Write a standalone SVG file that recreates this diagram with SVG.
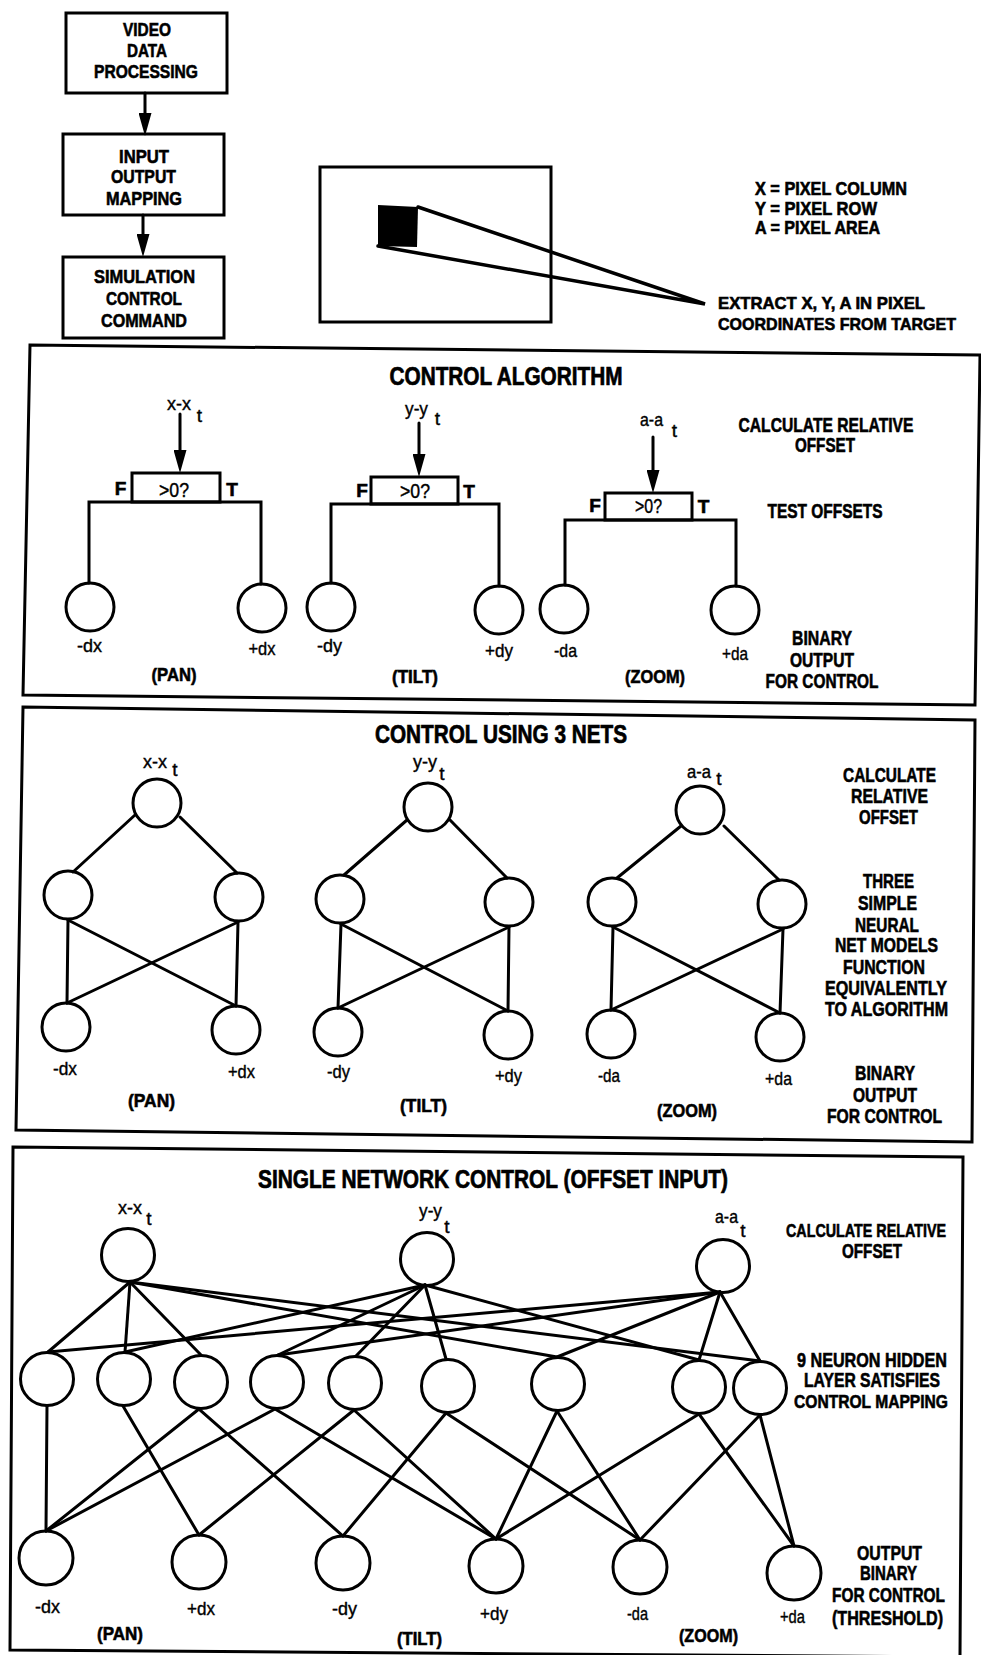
<svg xmlns="http://www.w3.org/2000/svg" width="981" height="1655" viewBox="0 0 981 1655">
  <style>
    .bg { fill: #fff; }
    .box { fill: #fff; stroke: #000; stroke-width: 3; }
    .frame { fill: none; stroke: #000; stroke-width: 3; stroke-linejoin: miter; }
    .ln { fill: none; stroke: #000; stroke-width: 3; stroke-linecap: round; }
    .nd { fill: #fff; stroke: #000; stroke-width: 3; }
    text { fill: #000; font-family: "Liberation Sans Narrow", "Liberation Sans", Arial, sans-serif; }
    .b, .bl, .be, .r, .re, .ti { font-weight: bold; stroke: #000; stroke-width: 0.6; }
    .b { font-size: 19px; text-anchor: middle; }
    .bl { font-size: 18px; text-anchor: start; }
    .be { font-size: 17px; text-anchor: end; }
    .r { font-size: 20px; text-anchor: middle; }
    .re { font-size: 19px; text-anchor: end; }
    .ti { font-size: 25px; text-anchor: middle; stroke-width: 0.7; }
    .lc { font-weight: normal; font-size: 19px; text-anchor: middle; stroke: #000; stroke-width: 0.4; }
    .q { font-weight: normal; font-size: 20px; text-anchor: middle; stroke: #000; stroke-width: 0.4; }
  </style>
  <defs>
    <marker id="head" viewBox="0 0 23 13" refX="0" refY="6.5" markerWidth="23" markerHeight="13" markerUnits="userSpaceOnUse" orient="auto">
      <path d="M0,0 L23,6.5 L0,13 Z" fill="#000"/>
    </marker>
  </defs>
  <rect class="bg" x="0" y="0" width="981" height="1655"/>

  <!-- ===== Processing chain ===== -->
  <g id="video-data-processing">
    <rect class="box" x="66" y="13" width="161" height="80"/>
    <text class="b" x="147" y="36" textLength="48" lengthAdjust="spacingAndGlyphs">VIDEO</text>
    <text class="b" x="147" y="57" textLength="40" lengthAdjust="spacingAndGlyphs">DATA</text>
    <text class="b" x="146" y="78" textLength="104" lengthAdjust="spacingAndGlyphs">PROCESSING</text>
  </g>
  <g id="input-output-mapping">
    <rect class="box" x="63" y="134" width="161" height="81"/>
    <text class="b" x="144" y="163" textLength="50" lengthAdjust="spacingAndGlyphs">INPUT</text>
    <text class="b" x="143.5" y="183" textLength="65" lengthAdjust="spacingAndGlyphs">OUTPUT</text>
    <text class="b" x="144" y="205" textLength="76" lengthAdjust="spacingAndGlyphs">MAPPING</text>
  </g>
  <g id="simulation-control-command">
    <rect class="box" x="63" y="257" width="161" height="81"/>
    <text class="b" x="144.5" y="283" textLength="101" lengthAdjust="spacingAndGlyphs">SIMULATION</text>
    <text class="b" x="144" y="305" textLength="76" lengthAdjust="spacingAndGlyphs">CONTROL</text>
    <text class="b" x="144" y="327" textLength="86" lengthAdjust="spacingAndGlyphs">COMMAND</text>
  </g>

  <!-- camera frame with tracked target -->
  <g id="camera-frame">
    <rect class="box" x="320" y="167" width="231" height="155"/>
    <polygon points="378,205 418,207 417,247 378,246" fill="#000"/>
  </g>
  <g id="pixel-legend">
    <text class="bl" x="755" y="195" textLength="152" lengthAdjust="spacingAndGlyphs">X = PIXEL COLUMN</text>
    <text class="bl" x="755" y="215" textLength="122" lengthAdjust="spacingAndGlyphs">Y = PIXEL ROW</text>
    <text class="bl" x="755" y="234" textLength="125" lengthAdjust="spacingAndGlyphs">A = PIXEL AREA</text>
  </g>
  <g id="extract-note">
    <text class="be" x="925" y="309" textLength="207" lengthAdjust="spacingAndGlyphs">EXTRACT X, Y, A IN PIXEL</text>
    <text class="be" x="956" y="330" textLength="238" lengthAdjust="spacingAndGlyphs">COORDINATES FROM TARGET</text>
  </g>

  <!-- ===== Control algorithm ===== -->
  <g id="control-algorithm">
    <polygon class="frame" points="30,345 980,355 975,705 23,695"/>
    <text class="ti" x="506" y="385" textLength="233" lengthAdjust="spacingAndGlyphs">CONTROL ALGORITHM</text>
    <text class="r" x="826" y="432" textLength="175" lengthAdjust="spacingAndGlyphs">CALCULATE RELATIVE</text>
    <text class="r" x="825" y="452" textLength="60" lengthAdjust="spacingAndGlyphs">OFFSET</text>
    <text class="r" x="825" y="518" textLength="115" lengthAdjust="spacingAndGlyphs">TEST OFFSETS</text>
    <text class="r" x="822" y="645" textLength="60" lengthAdjust="spacingAndGlyphs">BINARY</text>
    <text class="r" x="822" y="667" textLength="64" lengthAdjust="spacingAndGlyphs">OUTPUT</text>
    <text class="r" x="822" y="688" textLength="113" lengthAdjust="spacingAndGlyphs">FOR CONTROL</text>
  </g>
  <g id="alg-pan">
    <text class="lc" x="179" y="410" textLength="24" lengthAdjust="spacingAndGlyphs">x-x</text>
    <text class="lc" x="199.5" y="422">t</text>
    <rect class="box" x="132" y="473" width="88" height="29"/>
    <text class="q" x="174" y="497" textLength="30" lengthAdjust="spacingAndGlyphs">&gt;0?</text>
    <text class="b" x="120.5" y="495">F</text>
    <text class="b" x="232" y="496">T</text>
    <circle class="nd" cx="90" cy="607" r="24"/>
    <circle class="nd" cx="262" cy="608" r="24"/>
    <text class="lc" x="89.5" y="652" textLength="25" lengthAdjust="spacingAndGlyphs">-dx</text>
    <text class="lc" x="262" y="655" textLength="27" lengthAdjust="spacingAndGlyphs">+dx</text>
    <text class="b" x="174" y="681" textLength="45" lengthAdjust="spacingAndGlyphs">(PAN)</text>
  </g>
  <g id="alg-tilt">
    <text class="lc" x="416.5" y="415" textLength="23" lengthAdjust="spacingAndGlyphs">y-y</text>
    <text class="lc" x="437.5" y="425">t</text>
    <rect class="box" x="371" y="477" width="87" height="27"/>
    <text class="q" x="415" y="498" textLength="30" lengthAdjust="spacingAndGlyphs">&gt;0?</text>
    <text class="b" x="362" y="497">F</text>
    <text class="b" x="469" y="498">T</text>
    <circle class="nd" cx="331" cy="607" r="24"/>
    <circle class="nd" cx="499" cy="610" r="24"/>
    <text class="lc" x="329.5" y="652" textLength="25" lengthAdjust="spacingAndGlyphs">-dy</text>
    <text class="lc" x="499" y="657" textLength="28" lengthAdjust="spacingAndGlyphs">+dy</text>
    <text class="b" x="415" y="683" textLength="46" lengthAdjust="spacingAndGlyphs">(TILT)</text>
  </g>
  <g id="alg-zoom">
    <text class="lc" x="651.5" y="426" textLength="23" lengthAdjust="spacingAndGlyphs">a-a</text>
    <text class="lc" x="674.5" y="437">t</text>
    <rect class="box" x="605" y="493" width="87" height="27"/>
    <text class="q" x="648.5" y="513" textLength="27" lengthAdjust="spacingAndGlyphs">&gt;0?</text>
    <text class="b" x="595" y="512">F</text>
    <text class="b" x="703.5" y="513">T</text>
    <circle class="nd" cx="564" cy="609" r="24"/>
    <circle class="nd" cx="735" cy="610" r="24"/>
    <text class="lc" x="565.5" y="657" textLength="23" lengthAdjust="spacingAndGlyphs">-da</text>
    <text class="lc" x="735" y="660" textLength="26" lengthAdjust="spacingAndGlyphs">+da</text>
    <text class="b" x="655" y="683" textLength="60" lengthAdjust="spacingAndGlyphs">(ZOOM)</text>
  </g>

  <!-- ===== Control using 3 nets ===== -->
  <g id="three-nets">
    <polygon class="frame" points="23,707 975,720 972,1142 16,1130"/>
    <text class="ti" x="501" y="743" textLength="252" lengthAdjust="spacingAndGlyphs">CONTROL USING 3 NETS</text>
    <text class="r" x="889.5" y="782" textLength="93" lengthAdjust="spacingAndGlyphs">CALCULATE</text>
    <text class="r" x="889.5" y="803" textLength="77" lengthAdjust="spacingAndGlyphs">RELATIVE</text>
    <text class="r" x="888.5" y="824" textLength="59" lengthAdjust="spacingAndGlyphs">OFFSET</text>
    <text class="r" x="888.5" y="888" textLength="51" lengthAdjust="spacingAndGlyphs">THREE</text>
    <text class="r" x="887.5" y="910" textLength="59" lengthAdjust="spacingAndGlyphs">SIMPLE</text>
    <text class="r" x="887" y="932" textLength="64" lengthAdjust="spacingAndGlyphs">NEURAL</text>
    <text class="r" x="886.5" y="952" textLength="103" lengthAdjust="spacingAndGlyphs">NET MODELS</text>
    <text class="r" x="884" y="974" textLength="82" lengthAdjust="spacingAndGlyphs">FUNCTION</text>
    <text class="r" x="886" y="995" textLength="122" lengthAdjust="spacingAndGlyphs">EQUIVALENTLY</text>
    <text class="r" x="886.5" y="1016" textLength="123" lengthAdjust="spacingAndGlyphs">TO ALGORITHM</text>
    <text class="r" x="885" y="1080" textLength="60" lengthAdjust="spacingAndGlyphs">BINARY</text>
    <text class="r" x="885" y="1102" textLength="64" lengthAdjust="spacingAndGlyphs">OUTPUT</text>
    <text class="r" x="884.5" y="1123" textLength="115" lengthAdjust="spacingAndGlyphs">FOR CONTROL</text>
  </g>
  <g id="net-pan">
    <text class="lc" x="155" y="768" textLength="24" lengthAdjust="spacingAndGlyphs">x-x</text>
    <text class="lc" x="175" y="776">t</text>
    <circle class="nd" cx="157" cy="803" r="24"/>
    <circle class="nd" cx="68" cy="895" r="24"/>
    <circle class="nd" cx="239" cy="897" r="24"/>
    <circle class="nd" cx="66" cy="1027" r="24"/>
    <circle class="nd" cx="236" cy="1030" r="24"/>
    <text class="lc" x="65" y="1075" textLength="24" lengthAdjust="spacingAndGlyphs">-dx</text>
    <text class="lc" x="241.5" y="1078" textLength="27" lengthAdjust="spacingAndGlyphs">+dx</text>
    <text class="b" x="151.5" y="1107" textLength="47" lengthAdjust="spacingAndGlyphs">(PAN)</text>
  </g>
  <g id="net-tilt">
    <text class="lc" x="425" y="768" textLength="24" lengthAdjust="spacingAndGlyphs">y-y</text>
    <text class="lc" x="442" y="780">t</text>
    <circle class="nd" cx="428" cy="807" r="24"/>
    <circle class="nd" cx="340" cy="899" r="24"/>
    <circle class="nd" cx="509" cy="902" r="24"/>
    <circle class="nd" cx="338" cy="1032" r="24"/>
    <circle class="nd" cx="508" cy="1035" r="24"/>
    <text class="lc" x="338.5" y="1078" textLength="23" lengthAdjust="spacingAndGlyphs">-dy</text>
    <text class="lc" x="508.5" y="1082" textLength="27" lengthAdjust="spacingAndGlyphs">+dy</text>
    <text class="b" x="423.5" y="1112" textLength="47" lengthAdjust="spacingAndGlyphs">(TILT)</text>
  </g>
  <g id="net-zoom">
    <text class="lc" x="699" y="778" textLength="24" lengthAdjust="spacingAndGlyphs">a-a</text>
    <text class="lc" x="719" y="785">t</text>
    <circle class="nd" cx="700" cy="810" r="24"/>
    <circle class="nd" cx="612" cy="902" r="24"/>
    <circle class="nd" cx="782" cy="904" r="24"/>
    <circle class="nd" cx="611" cy="1034" r="24"/>
    <circle class="nd" cx="780" cy="1037" r="24"/>
    <text class="lc" x="609" y="1082" textLength="22" lengthAdjust="spacingAndGlyphs">-da</text>
    <text class="lc" x="778.5" y="1085" textLength="27" lengthAdjust="spacingAndGlyphs">+da</text>
    <text class="b" x="687" y="1117" textLength="60" lengthAdjust="spacingAndGlyphs">(ZOOM)</text>
  </g>

  <!-- ===== Single network control ===== -->
  <g id="single-network">
    <polygon class="frame" points="13,1147 963,1157 960,1657 10,1650"/>
    <text class="ti" x="493" y="1188" textLength="470" lengthAdjust="spacingAndGlyphs">SINGLE NETWORK CONTROL (OFFSET INPUT)</text>
    <text class="re" x="946" y="1237" textLength="160" lengthAdjust="spacingAndGlyphs">CALCULATE RELATIVE</text>
    <text class="r" x="872" y="1258" textLength="60" lengthAdjust="spacingAndGlyphs">OFFSET</text>
    <text class="r" x="872" y="1367" textLength="150" lengthAdjust="spacingAndGlyphs">9 NEURON HIDDEN</text>
    <text class="r" x="872" y="1387" textLength="136" lengthAdjust="spacingAndGlyphs">LAYER SATISFIES</text>
    <text class="re" x="948" y="1408" textLength="154" lengthAdjust="spacingAndGlyphs">CONTROL MAPPING</text>
    <text class="r" x="889.5" y="1560" textLength="65" lengthAdjust="spacingAndGlyphs">OUTPUT</text>
    <text class="r" x="888.5" y="1580" textLength="57" lengthAdjust="spacingAndGlyphs">BINARY</text>
    <text class="r" x="888.5" y="1602" textLength="113" lengthAdjust="spacingAndGlyphs">FOR CONTROL</text>
    <text class="r" x="887.5" y="1625" textLength="111" lengthAdjust="spacingAndGlyphs">(THRESHOLD)</text>
  </g>
  <g id="input-x">
    <text class="lc" x="130" y="1214" textLength="24" lengthAdjust="spacingAndGlyphs">x-x</text>
    <text class="lc" x="149" y="1225">t</text>
    <circle class="nd" cx="128" cy="1255" r="26.5"/>
  </g>
  <g id="input-y">
    <text class="lc" x="430.5" y="1217" textLength="23" lengthAdjust="spacingAndGlyphs">y-y</text>
    <text class="lc" x="447" y="1233">t</text>
    <circle class="nd" cx="427" cy="1259" r="26.5"/>
  </g>
  <g id="input-a">
    <text class="lc" x="726.5" y="1223" textLength="23" lengthAdjust="spacingAndGlyphs">a-a</text>
    <text class="lc" x="743" y="1237">t</text>
    <circle class="nd" cx="723" cy="1266" r="26.5"/>
  </g>
  <g id="hidden-layer">
    <circle id="h1" class="nd" cx="47" cy="1379" r="26.5"/>
    <circle id="h2" class="nd" cx="124" cy="1379" r="26.5"/>
    <circle id="h3" class="nd" cx="201" cy="1382" r="26.5"/>
    <circle id="h4" class="nd" cx="277" cy="1382" r="26.5"/>
    <circle id="h5" class="nd" cx="355" cy="1383" r="26.5"/>
    <circle id="h6" class="nd" cx="448" cy="1386" r="26.5"/>
    <circle id="h7" class="nd" cx="558" cy="1384" r="26.5"/>
    <circle id="h8" class="nd" cx="699" cy="1387" r="26.5"/>
    <circle id="h9" class="nd" cx="760" cy="1388" r="26.5"/>
  </g>
  <g id="output-dx-minus">
    <circle class="nd" cx="46" cy="1558" r="27"/>
    <text class="lc" x="47.5" y="1613" textLength="25" lengthAdjust="spacingAndGlyphs">-dx</text>
  </g>
  <g id="output-dx-plus">
    <circle class="nd" cx="199" cy="1562" r="27"/>
    <text class="lc" x="201" y="1615" textLength="28" lengthAdjust="spacingAndGlyphs">+dx</text>
  </g>
  <g id="output-dy-minus">
    <circle class="nd" cx="343" cy="1563" r="27"/>
    <text class="lc" x="344.5" y="1615" textLength="25" lengthAdjust="spacingAndGlyphs">-dy</text>
  </g>
  <g id="output-dy-plus">
    <circle class="nd" cx="496" cy="1566" r="27"/>
    <text class="lc" x="494" y="1620" textLength="28" lengthAdjust="spacingAndGlyphs">+dy</text>
  </g>
  <g id="output-da-minus">
    <circle class="nd" cx="640" cy="1567" r="27"/>
    <text class="lc" x="637.5" y="1620" textLength="21" lengthAdjust="spacingAndGlyphs">-da</text>
  </g>
  <g id="output-da-plus">
    <circle class="nd" cx="794" cy="1573" r="27"/>
    <text class="lc" x="792.5" y="1623" textLength="25" lengthAdjust="spacingAndGlyphs">+da</text>
  </g>
  <g id="axis-labels">
    <text class="b" x="120" y="1640" textLength="46" lengthAdjust="spacingAndGlyphs">(PAN)</text>
    <text class="b" x="419.5" y="1645" textLength="45" lengthAdjust="spacingAndGlyphs">(TILT)</text>
    <text class="b" x="708.5" y="1642" textLength="59" lengthAdjust="spacingAndGlyphs">(ZOOM)</text>
  </g>

  <!-- ===== Connectors ===== -->
  <g id="connectors">
    <!-- processing chain -->
    <line class="ln" x1="145" y1="93" x2="145" y2="113" marker-end="url(#head)"/>
    <line class="ln" x1="143" y1="215" x2="143" y2="234" marker-end="url(#head)"/>
    <!-- target projection -->
    <polyline class="ln" points="418,207 705,304 378,246" stroke-linejoin="miter" style="stroke-width:3.5"/>

    <!-- algorithm: inputs, tests and branches -->
    <line class="ln" x1="180" y1="414" x2="180" y2="450" marker-end="url(#head)"/>
    <polyline class="ln" points="89,583 89,502 261,502 261,584"/>
    <line class="ln" x1="419" y1="423" x2="419" y2="454" marker-end="url(#head)"/>
    <polyline class="ln" points="331,583 331,504 499,504 499,586"/>
    <line class="ln" x1="653" y1="437" x2="653" y2="470" marker-end="url(#head)"/>
    <polyline class="ln" points="565,585 565,520 736,520 736,586"/>

    <!-- 3 nets: pan -->
    <line class="ln" x1="135" y1="815" x2="73" y2="872"/>
    <line class="ln" x1="180" y1="817" x2="237" y2="873"/>
    <line class="ln" x1="68" y1="920" x2="67" y2="1003"/>
    <line class="ln" x1="68" y1="920" x2="236" y2="1006"/>
    <line class="ln" x1="238" y1="922" x2="67" y2="1003"/>
    <line class="ln" x1="238" y1="922" x2="236" y2="1006"/>
    <!-- 3 nets: tilt -->
    <line class="ln" x1="407" y1="820" x2="344" y2="875"/>
    <line class="ln" x1="450" y1="820" x2="507" y2="878"/>
    <line class="ln" x1="341" y1="924" x2="338" y2="1008"/>
    <line class="ln" x1="341" y1="924" x2="508" y2="1011"/>
    <line class="ln" x1="509" y1="927" x2="338" y2="1008"/>
    <line class="ln" x1="509" y1="927" x2="508" y2="1011"/>
    <!-- 3 nets: zoom -->
    <line class="ln" x1="681" y1="826" x2="617" y2="878"/>
    <line class="ln" x1="724" y1="826" x2="779" y2="880"/>
    <line class="ln" x1="613" y1="927" x2="611" y2="1010"/>
    <line class="ln" x1="613" y1="927" x2="780" y2="1013"/>
    <line class="ln" x1="783" y1="929" x2="611" y2="1010"/>
    <line class="ln" x1="783" y1="929" x2="780" y2="1013"/>

    <!-- single net: inputs to hidden layer -->
    <line class="ln" x1="130" y1="1282" x2="48" y2="1352"/>
    <line class="ln" x1="130" y1="1282" x2="125" y2="1352"/>
    <line class="ln" x1="130" y1="1282" x2="201" y2="1355"/>
    <line class="ln" x1="130" y1="1282" x2="557" y2="1357"/>
    <line class="ln" x1="130" y1="1282" x2="760" y2="1361"/>
    <line class="ln" x1="425" y1="1285" x2="125" y2="1352"/>
    <line class="ln" x1="425" y1="1285" x2="278" y2="1355"/>
    <line class="ln" x1="425" y1="1285" x2="356" y2="1356"/>
    <line class="ln" x1="425" y1="1285" x2="446" y2="1359"/>
    <line class="ln" x1="425" y1="1285" x2="699" y2="1360"/>
    <line class="ln" x1="720" y1="1292" x2="48" y2="1352"/>
    <line class="ln" x1="720" y1="1292" x2="278" y2="1355"/>
    <line class="ln" x1="720" y1="1292" x2="557" y2="1357"/>
    <line class="ln" x1="720" y1="1292" x2="699" y2="1360"/>
    <line class="ln" x1="720" y1="1292" x2="760" y2="1361"/>

    <!-- single net: hidden layer to outputs -->
    <line class="ln" x1="47" y1="1406" x2="46" y2="1531"/>
    <line class="ln" x1="123" y1="1406" x2="199" y2="1535"/>
    <line class="ln" x1="199" y1="1409" x2="46" y2="1531"/>
    <line class="ln" x1="199" y1="1409" x2="343" y2="1536"/>
    <line class="ln" x1="275" y1="1409" x2="46" y2="1531"/>
    <line class="ln" x1="275" y1="1409" x2="496" y2="1539"/>
    <line class="ln" x1="354" y1="1410" x2="199" y2="1535"/>
    <line class="ln" x1="354" y1="1410" x2="496" y2="1539"/>
    <line class="ln" x1="446" y1="1413" x2="343" y2="1536"/>
    <line class="ln" x1="446" y1="1413" x2="640" y2="1540"/>
    <line class="ln" x1="557" y1="1411" x2="496" y2="1539"/>
    <line class="ln" x1="557" y1="1411" x2="640" y2="1540"/>
    <line class="ln" x1="699" y1="1414" x2="496" y2="1539"/>
    <line class="ln" x1="699" y1="1414" x2="794" y2="1546"/>
    <line class="ln" x1="760" y1="1415" x2="640" y2="1540"/>
    <line class="ln" x1="760" y1="1415" x2="794" y2="1546"/>
  </g>
</svg>
